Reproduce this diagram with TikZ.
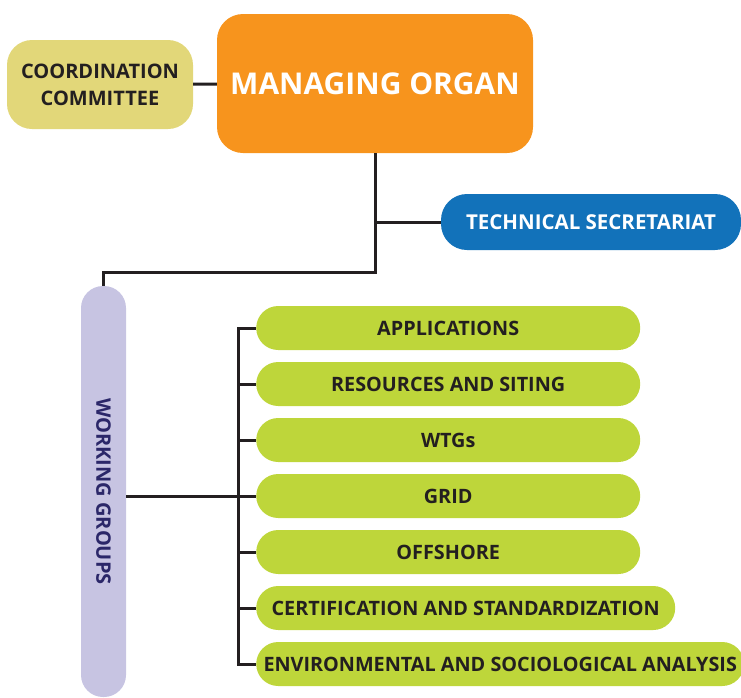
\documentclass[tikz,border=0pt]{standalone}
\usepackage{fontspec}
\setmainfont{Open Sans}
\usetikzlibrary{positioning}
\definecolor{orgorange}{HTML}{F7941D}
\definecolor{orgyellow}{HTML}{E2D779}
\definecolor{orgblue}{HTML}{1272BA}
\definecolor{orglilac}{HTML}{C7C4E2}
\definecolor{orggreen}{HTML}{BED63A}
\definecolor{orgnavy}{HTML}{2B2769}
\definecolor{orgdark}{HTML}{231F20}

\begin{document}
\begin{tikzpicture}[x=1pt, y=-1pt]
    \tikzstyle{box} = [rectangle, inner sep=0pt, text centered, font=\bfseries]
    \tikzstyle{group} = [box, fill=orggreen, text=orgdark, minimum height=44pt, rounded corners=22pt, anchor=west, font=\bfseries\fontsize{19.8}{22}\selectfont]
    \tikzstyle{link} = [line width=3pt, orgdark]
    \useasboundingbox (0,0) rectangle (741,697);

    \node [box, fill=orgyellow, text=orgdark, minimum width=186pt, minimum height=89pt, rounded corners=25pt, align=center, font=\bfseries\fontsize{20}{27}\selectfont] (coord) at (100,84.5) {COORDINATION\\COMMITTEE};
    \node [box, fill=orgorange, text=white, minimum width=316pt, minimum height=139pt, rounded corners=26pt, font=\bfseries\fontsize{30}{32}\selectfont] (managing) at (375,83.5) {MANAGING ORGAN};
    \node [box, fill=orgblue, text=white, minimum width=300pt, minimum height=56pt, rounded corners=26pt, font=\bfseries\fontsize{20.5}{22}\selectfont] (techsec) at (591,222) {TECHNICAL SECRETARIAT};
    \node [box, fill=orglilac, text=orgnavy, minimum width=45pt, minimum height=411pt, rounded corners=22pt, font=\bfseries\fontsize{20}{22}\selectfont] (working) at (103.5,491.5) {\rotatebox{-90}{WORKING GROUPS}};

    \node [group, minimum width=384pt] (wg1) at (256,328) {APPLICATIONS};
    \node [group, minimum width=384pt] (wg2) at (256,384) {RESOURCES AND SITING};
    \node [group, minimum width=384pt] (wg3) at (256,440) {WTGs};
    \node [group, minimum width=384pt] (wg4) at (256,496) {GRID};
    \node [group, minimum width=384pt] (wg5) at (256,552) {OFFSHORE};
    \node [group, minimum width=419pt] (wg6) at (256,608) {CERTIFICATION AND STANDARDIZATION};
    \node [group, minimum width=488pt] (wg7) at (256,664) {ENVIRONMENTAL AND SOCIOLOGICAL ANALYSIS};

    \coordinate (bend) at (managing.south |- 0,272);
    \draw [link] (coord) -- (managing);
    \draw [link] (managing.south) -- (bend) -| (working.north);
    \draw [link] (managing.south |- techsec.west) -- (techsec.west);
    \draw [link] (working.east |- wg4.west) -- (wg4.west);
    \draw [link] (wg1.west) -- ++(-18,0) |- (wg7.west);
    \foreach \i in {2,...,6}
        \draw [link] (wg\i.west) -- ++(-18,0);
\end{tikzpicture}
\end{document}
